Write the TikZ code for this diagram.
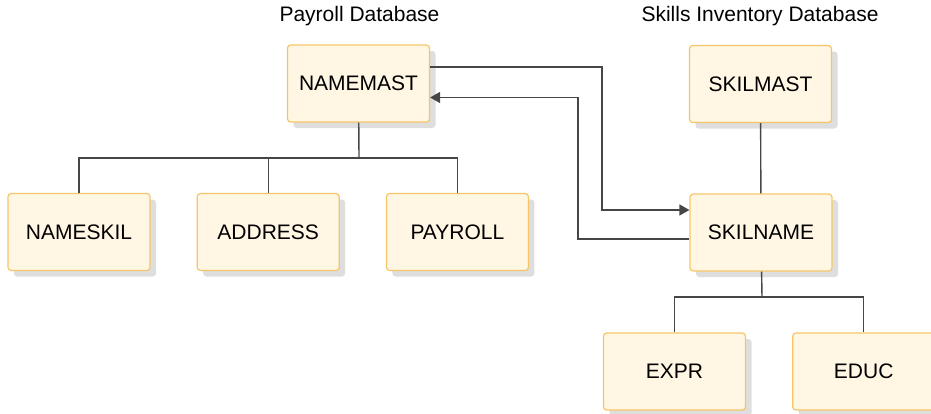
\documentclass[tikz,border=0pt]{standalone}
\usepackage{fontspec}
\setmainfont{Liberation Sans}
\usetikzlibrary{arrows.meta,calc,positioning,shadows}
\definecolor{segfill}{RGB}{255,246,228}
\definecolor{segedge}{RGB}{246,197,106}
\definecolor{linkgray}{RGB}{70,70,70}

\begin{document}
\begin{tikzpicture}[x=0.5pt,y=-0.5pt,>={Triangle[length=5pt,width=5.5pt]},
    font=\fontsize{10.5pt}{12.5pt}\selectfont,node distance=23pt,
    seg/.style={draw=segedge,line width=0.6pt,fill=segfill,rounded corners=1.6pt,
      minimum width=71pt,minimum height=38.5pt,inner sep=0pt,
      drop shadow={shadow xshift=3pt,shadow yshift=-3pt,fill=black!13,opacity=1}},
    link/.style={draw=linkgray,line width=0.7pt},
    dbtitle/.style={inner sep=0pt}]
        \useasboundingbox (0,0) rectangle (931,413);
        % payroll database
        \node[seg] (namemast) at (358.5,83.5) {NAMEMAST};
        \node[seg] (nameskil) at (79,232) {NAMESKIL};
        \node[seg,right=of nameskil] (address) {ADDRESS};
        \node[seg,right=of address] (payroll) {PAYROLL};
        \node[dbtitle] (paytitle) at (359.5,16) {Payroll Database};
        % skills inventory database
        \node[seg] (skilmast) at (760.5,84) {SKILMAST};
        \node[seg] (skilname) at (761,232.5) {SKILNAME};
        \node[seg] (expr) at (674.5,371.5) {EXPR};
        \node[seg,right=of expr] (educ) {EDUC};
        \node[dbtitle] (skltitle) at (760,16) {Skills Inventory Database};
        % hierarchy lines
        \coordinate (paybus) at (359,158);
        \draw[link] (namemast) -- (paybus);
        \draw[link] (nameskil.north) |- (paybus) -| (payroll.north);
        \draw[link] (address.north) -- (address.north |- paybus);
        \draw[link] (skilmast) -- (skilname);
        \coordinate (sklbus) at (762,297);
        \draw[link] (skilname) -- (sklbus);
        \draw[link] (expr.north) |- (sklbus) -| (educ.north);
        % logical relationship
        \coordinate (fwd) at (602,210);
        \coordinate (bwd) at (578,97.5);
        \draw[link,->] ([yshift=8.25pt]namemast.east) -| (fwd) -- (skilname.west |- fwd);
        \draw[link,->] ([yshift=-3.25pt]skilname.west) -| (bwd) -- (namemast.east |- bwd);
      \end{tikzpicture}
\end{document}
